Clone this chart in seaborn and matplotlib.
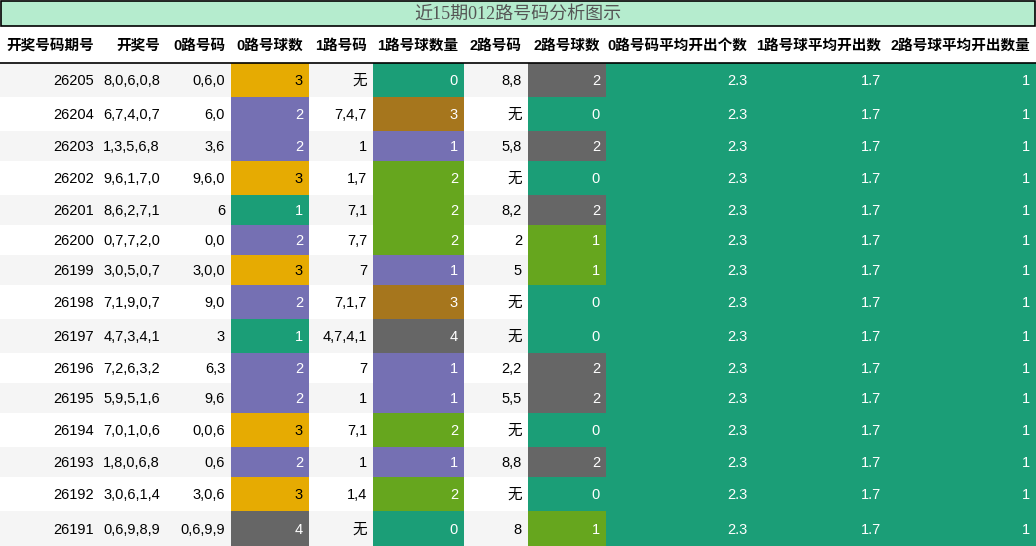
import seaborn as sns
import matplotlib.pyplot as plt

sns.set_theme(style="white")
plt.rcParams['font.family'] = ['Liberation Sans', 'Noto Sans CJK SC', 'DejaVu Sans']

title = "近15期012路号码分析图示"
headers = ["开奖号码期号", "开奖号", "0路号码", "0路号球数", "1路号码", "1路号球数量",
           "2路号码", "2路号球数", "0路号码平均开出个数", "1路号球平均开出数", "2路号球平均开出数量"]

periods = [26205, 26204, 26203, 26202, 26201, 26200, 26199, 26198, 26197, 26196, 26195, 26194, 26193, 26192, 26191]
draws = ["8,0,6,0,8", "6,7,4,0,7", "1,3,5,6,8", "9,6,1,7,0", "8,6,2,7,1", "0,7,7,2,0", "3,0,5,0,7",
         "7,1,9,0,7", "4,7,3,4,1", "7,2,6,3,2", "5,9,5,1,6", "7,0,1,0,6", "1,8,0,6,8", "3,0,6,1,4", "0,6,9,8,9"]
nums0 = ["0,6,0", "6,0", "3,6", "9,6,0", "6", "0,0", "3,0,0", "9,0", "3", "6,3", "9,6", "0,0,6", "0,6", "3,0,6", "0,6,9,9"]
cnt0 = [3, 2, 2, 3, 1, 2, 3, 2, 1, 2, 2, 3, 2, 3, 4]
nums1 = ["无", "7,4,7", "1", "1,7", "7,1", "7,7", "7", "7,1,7", "4,7,4,1", "7", "1", "7,1", "1", "1,4", "无"]
cnt1 = [0, 3, 1, 2, 2, 2, 1, 3, 4, 1, 1, 2, 1, 2, 0]
nums2 = ["8,8", "无", "5,8", "无", "8,2", "2", "5", "无", "无", "2,2", "5,5", "无", "8,8", "无", "8"]
cnt2 = [2, 0, 2, 0, 2, 1, 1, 0, 0, 2, 2, 0, 2, 0, 1]
avg0 = [2.3] * 15
avg1 = [1.7] * 15
avg2 = [1] * 15

pal = sns.color_palette("Dark2", 8)
teal, purple, green, yellow, brown, grey = pal[0], pal[2], pal[4], pal[5], pal[6], pal[7]
col_colors = {
    3: {0: teal, 1: teal, 2: purple, 3: yellow, 4: grey},
    5: {0: teal, 1: purple, 2: green, 3: brown, 4: grey},
    7: {0: teal, 1: green, 2: grey},
}

columns = [periods, draws, nums0, cnt0, nums1, cnt1, nums2, cnt2, avg0, avg1, avg2]
edges = [0, 100, 166, 231, 309, 373, 464, 528, 606, 753, 887, 1036]

W, H = 1036, 546
fig = plt.figure(figsize=(W / 100, H / 100), dpi=100)
ax = fig.add_axes([0, 0, 1, 1])
ax.set_xlim(0, W)
ax.set_ylim(H, 0)
ax.axis("off")

# title bar
ax.barh(13, W - 2, left=1, height=25, color="#b5ecce", edgecolor="black", linewidth=1.2)
ax.text(W / 2, 14, title, ha="center", va="center", fontsize=13, color="#555555",
        family=['Liberation Serif', 'Noto Sans CJK SC'])

# header
for j, h in enumerate(headers):
    ax.text(edges[j + 1] - 6, 46, h, ha="right", va="center", fontsize=10.5, fontweight="bold", color="black")
ax.plot([0, W], [62.5, 62.5], color="black", lw=1.2)

y = 63
for i in range(len(periods)):
    row = [c[i] for c in columns]
    h = 34 if "无" in row else 30
    if i == len(periods) - 1:
        h = H - y
    bg = "#f5f5f5" if i % 2 == 0 else "white"
    ax.barh(y + h / 2, W, left=0, height=h, color=bg, linewidth=0)
    for j, v in enumerate(row):
        fc = None
        if j in col_colors:
            fc = col_colors[j][v]
        elif j >= 8:
            fc = teal
        if fc is not None:
            ax.barh(y + h / 2, edges[j + 1] - edges[j], left=edges[j], height=h, color=fc, linewidth=0)
        tc = "black" if fc is None or fc == yellow else "white"
        ax.text(edges[j + 1] - 6, y + h / 2 + 1, str(v), ha="right", va="center", fontsize=10.5, color=tc)
    y += h

fig.savefig("out.png", dpi=100)
